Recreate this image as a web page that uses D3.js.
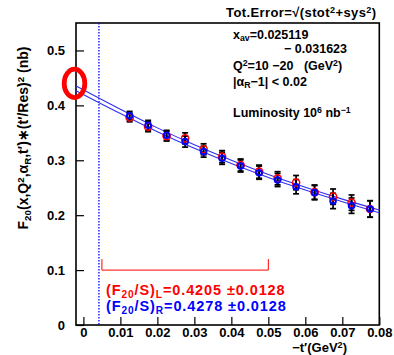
<!doctype html>
<html>
<head>
<meta charset="utf-8"/>
<script src="https://d3js.org/d3.v7.min.js"></script>
<style>
  body { margin: 0; background: #fff; }
  text { font-family: "Liberation Sans", Arial, sans-serif; font-weight: bold; white-space: pre; }
</style>
</head>
<body>
<svg id="chart"></svg>
<script>
// data
var tVals = [0.0125, 0.0175, 0.0225, 0.0275, 0.0325, 0.0375, 0.0425, 0.0475, 0.0525, 0.0575, 0.0625, 0.0675, 0.0725, 0.0775];
var redVals = [0.378, 0.361, 0.344, 0.340, 0.320, 0.3066, 0.2914, 0.2793, 0.2672, 0.2593, 0.242, 0.2337, 0.2228, 0.2113];
var blueVals = [0.381, 0.3637, 0.3455, 0.334, 0.3157, 0.3036, 0.2896, 0.2774, 0.2641, 0.2519, 0.241, 0.2259, 0.2173, 0.2113];
var errVals = [0.008, 0.009, 0.009, 0.010, 0.010, 0.011, 0.011, 0.012, 0.012, 0.013, 0.013, 0.014, 0.014, 0.015];

// fit curves (upper = R, lower = L)
var fitT = [-0.002, 0.01, 0.02, 0.03, 0.04, 0.05, 0.06, 0.07, 0.08];
var fitR = [0.4353, 0.3928, 0.3590, 0.3282, 0.3000, 0.2742, 0.2507, 0.2292, 0.2095];
var fitL = [0.4268, 0.3852, 0.3521, 0.3218, 0.2941, 0.2688, 0.2457, 0.2246, 0.2046];

var xTicks = [0, 0.01, 0.02, 0.03, 0.04, 0.05, 0.06, 0.07, 0.08];
var yTicks = [0, 0.1, 0.2, 0.3, 0.4, 0.5];

var cutT = 0.0042;            // dotted line
var rangeT = [0.005, 0.05];   // red bracket
var bracketY = [0.1, 0.12];

var W = 394, H = 355;
var pL = 76, pR = 379.3, pT = 23, pB = 325;

var svg = d3.select("#chart").attr("width", W).attr("height", H);

var x = d3.scaleLinear().domain([-0.002, 0.08]).range([pL, pR]);
var y = d3.scaleLinear().domain([0, 0.55]).range([pB, pT]);

// axes, ticks inward
var xAxis = d3.axisBottom(x).tickValues(xTicks).tickSizeInner(-8).tickSizeOuter(0)
  .tickFormat(d => d === 0 ? "0" : d3.format(".2f")(d));
var gx = svg.append("g").attr("transform", "translate(0," + pB + ")").call(xAxis);
gx.select(".domain").remove();
gx.selectAll("line").attr("stroke", "#000").attr("stroke-width", 1.2);
gx.selectAll("text").attr("y", 3).attr("dy", "0.71em").style("font-size", "13px").attr("fill", "#000");

var yAxis = d3.axisLeft(y).tickValues(yTicks).tickSizeInner(-8).tickSizeOuter(0)
  .tickFormat(d => d === 0 ? "0" : d3.format(".1f")(d));
var gy = svg.append("g").attr("transform", "translate(" + pL + ",0)").call(yAxis);
gy.select(".domain").remove();
gy.selectAll("line").attr("stroke", "#000").attr("stroke-width", 1.2);
gy.selectAll("text").attr("x", -11).style("font-size", "13px").attr("fill", "#000");

// frame
svg.append("rect").attr("x", pL).attr("y", pT)
  .attr("width", pR - pL).attr("height", pB - pT)
  .attr("fill", "none").attr("stroke", "#000").attr("stroke-width", 1.6);

// dotted cut line
svg.append("line").attr("x1", x(cutT)).attr("x2", x(cutT)).attr("y1", pT).attr("y2", pB)
  .attr("stroke", "#0000ff").attr("stroke-width", 1.3).attr("stroke-dasharray", "1.5,1.5");

// red bracket
svg.append("path")
  .attr("d", "M" + x(rangeT[0]) + "," + y(bracketY[1]) + "V" + y(bracketY[0]) +
             "H" + x(rangeT[1]) + "V" + y(bracketY[1]))
  .attr("fill", "none").attr("stroke", "#ff0000").attr("stroke-width", 1);

// fit lines
var line = d3.line().x(d => x(d[0])).y(d => y(d[1])).curve(d3.curveMonotoneX);
svg.append("path").datum(fitT.map((t, i) => [t, fitR[i]]))
  .attr("d", line).attr("fill", "none").attr("stroke", "#3030f0").attr("stroke-width", 1.1);
svg.append("path").datum(fitT.map((t, i) => [t, fitL[i]]))
  .attr("d", line).attr("fill", "none").attr("stroke", "#3030f0").attr("stroke-width", 1.1);

// error bars for both series
function errorBars(vals) {
  var g = svg.append("g").attr("stroke", "#000").attr("stroke-width", 1.7);
  g.selectAll(null).data(tVals).enter().append("line")
    .attr("x1", d => x(d)).attr("x2", d => x(d))
    .attr("y1", (d, i) => y(vals[i] - errVals[i])).attr("y2", (d, i) => y(vals[i] + errVals[i]));
  [-1, 1].forEach(function (s) {
    g.selectAll(null).data(tVals).enter().append("line")
      .attr("x1", d => x(d) - 3).attr("x2", d => x(d) + 3)
      .attr("y1", (d, i) => y(vals[i] + s * errVals[i])).attr("y2", (d, i) => y(vals[i] + s * errVals[i]));
  });
}
errorBars(redVals);
errorBars(blueVals);

svg.append("g").selectAll("circle").data(tVals).enter().append("circle")
  .attr("cx", d => x(d)).attr("cy", (d, i) => y(redVals[i])).attr("r", 3.6)
  .attr("fill", "none").attr("stroke", "#ff0000").attr("stroke-width", 1.5);
svg.append("g").selectAll("circle").data(tVals).enter().append("circle")
  .attr("cx", d => x(d)).attr("cy", (d, i) => y(blueVals[i])).attr("r", 2.8)
  .attr("fill", "none").attr("stroke", "#0000ff").attr("stroke-width", 2);

// red highlight ellipse at the intercept
svg.append("ellipse").attr("cx", x(-0.002) - 1.5).attr("cy", y(0.44)).attr("rx", 10.3).attr("ry", 14.2)
  .attr("fill", "none").attr("stroke", "#ff0000").attr("stroke-width", 4.8);

// texts
function rich(parent, parts) {
  parts.forEach(function (p) {
    var s = parent.append("tspan").text(p[0]);
    if (p[1] === "sub") s.attr("baseline-shift", "-25%").style("font-size", "70%");
    if (p[1] === "sup") s.attr("baseline-shift", "40%").style("font-size", "70%");
  });
}

var t1 = svg.append("text").attr("x", 226).attr("y", 17).style("font-size", "13px")
  .style("letter-spacing", "0.4px");
rich(t1, [["Tot.Error=\u221A(stot"], ["2", "sup"], ["+sys"], ["2", "sup"], [")"]]);

var info = svg.append("g").style("font-size", "12.5px");
var l1 = info.append("text").attr("x", 233).attr("y", 39);
rich(l1, [["x"], ["av", "sub"], ["=0.025119"]]);
info.append("text").attr("x", 347).attr("y", 53).attr("text-anchor", "end").text("\u2212 0.031623");
var l3 = info.append("text").attr("x", 233).attr("y", 70);
rich(l3, [["Q"], ["2", "sup"], ["=10 \u221220   (GeV"], ["2", "sup"], [")"]]);
var l4 = info.append("text").attr("x", 233).attr("y", 86);
rich(l4, [["|\u03B1"], ["R", "sub"], ["\u22121| < 0.02"]]);
var l5 = info.append("text").attr("x", 233).attr("y", 117);
rich(l5, [["Luminosity 10"], ["6", "sup"], [" nb"], ["\u22121", "sup"]]);

var fL = svg.append("text").attr("x", 106).attr("y", 295).attr("fill", "#ff0000")
  .style("font-size", "14.5px").style("letter-spacing", "0.9px");
rich(fL, [["(F"], ["20", "sub"], ["/S)"], ["L", "sub"], ["=0.4205 \u00B10.0128"]]);
var fR = svg.append("text").attr("x", 106).attr("y", 311).attr("fill", "#0000ff")
  .style("font-size", "14.5px").style("letter-spacing", "0.9px");
rich(fR, [["(F"], ["20", "sub"], ["/S)"], ["R", "sub"], ["=0.4278 \u00B10.0128"]]);

var xl = svg.append("text").attr("x", 347).attr("y", 352).attr("text-anchor", "end").style("font-size", "13px");
rich(xl, [["\u2212t\u2032(GeV"], ["2", "sup"], [")"]]);

var yl = svg.append("text").attr("transform", "translate(28,138) rotate(-90)")
  .attr("text-anchor", "middle").style("font-size", "14px");
rich(yl, [["F"], ["20", "sub"], ["(x,Q"], ["2", "sup"], [",\u03B1"], ["R", "sub"], [",t\u2032)\u2217(t\u2032/Res)"], ["2", "sup"], [" (nb)"]]);
</script>
</body>
</html>
